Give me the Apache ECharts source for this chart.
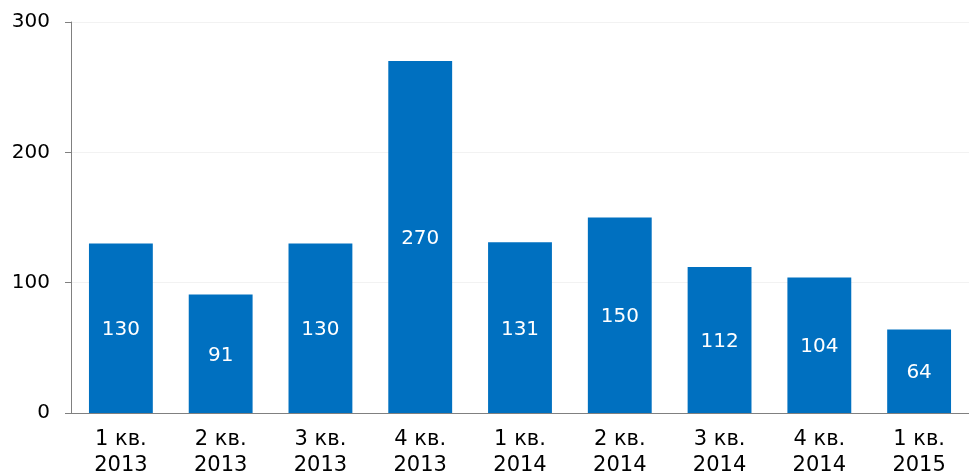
<!DOCTYPE html>
<html><head><meta charset="utf-8">
<script src="https://cdn.jsdelivr.net/npm/echarts@6/dist/echarts.min.js"></script>
<style>html,body{margin:0;padding:0;background:#fff}#c{width:969px;height:474px}</style>
</head><body><div id="c"></div>
<script>
const categories = ["1 кв.\n2013","2 кв.\n2013","3 кв.\n2013","4 кв.\n2013","1 кв.\n2014","2 кв.\n2014","3 кв.\n2014","4 кв.\n2014","1 кв.\n2015"];
const values = [130, 91, 130, 270, 131, 150, 112, 104, 64];
const yTicks = {min: 0, max: 300, interval: 100};
const font = "'DejaVu Sans', Verdana, sans-serif";
const chart = echarts.init(document.getElementById('c'), null, {renderer: 'canvas'});
chart.setOption({
  animation: false,
  grid: {left: 71, right: 0, top: 22, bottom: 61, containLabel: false, outerBoundsMode: 'none'},
  xAxis: {
    type: 'category', data: categories,
    axisLine: {lineStyle: {color: '#808080', width: 1}},
    axisTick: {show: false},
    axisLabel: {color: '#000', fontFamily: font, fontSize: 21, lineHeight: 26, margin: 14, interval: 0}
  },
  yAxis: {
    type: 'value', min: yTicks.min, max: yTicks.max, interval: yTicks.interval,
    axisLine: {show: true, lineStyle: {color: '#808080', width: 1}},
    axisTick: {show: true, length: 6, lineStyle: {color: '#808080'}},
    axisLabel: {color: '#000', fontFamily: font, fontSize: 20, margin: 21},
    splitLine: {lineStyle: {color: '#f2f2f2'}}
  },
  series: [{
    type: 'bar', data: values, barWidth: '64%',
    itemStyle: {color: '#0070C0'},
    label: {show: true, position: 'inside', color: '#fff', fontFamily: font, fontSize: 20, offset: [0, 2]}
  }]
});
</script></body></html>
